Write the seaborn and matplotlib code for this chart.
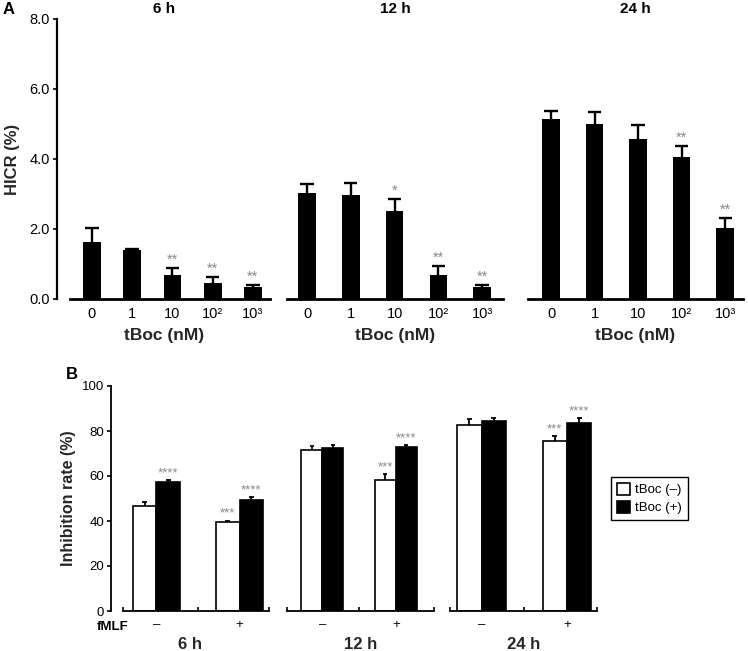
import matplotlib
matplotlib.use("Agg")
import matplotlib.pyplot as plt
import seaborn as sns
import pandas as pd

# Panel A: HICR (%) by tBoc dose at three time points
doses = ["0", "1", "10", "10\u00b2", "10\u00b3"]
a_times = ["6 h", "12 h", "24 h"]
a_means = {
    "6 h": [1.63, 1.40, 0.69, 0.47, 0.33],
    "12 h": [3.03, 2.98, 2.51, 0.68, 0.33],
    "24 h": [5.13, 5.00, 4.56, 4.06, 2.04],
}
a_errs = {
    "6 h": [0.40, 0.04, 0.20, 0.17, 0.07],
    "12 h": [0.25, 0.32, 0.34, 0.26, 0.07],
    "24 h": [0.25, 0.34, 0.42, 0.31, 0.27],
}
a_stars = {
    "6 h": ["", "", "**", "**", "**"],
    "12 h": ["", "", "*", "**", "**"],
    "24 h": ["", "", "", "**", "**"],
}

# Panel B: inhibition rate (%) with / without fMLF and tBoc
fmlf_levels = ["\u2013", "+"]
tboc_levels = ["tBoc (\u2013)", "tBoc (+)"]
b_times = ["6 h", "12 h", "24 h"]
b_means = {
    "6 h": [[46.8, 39.4], [57.2, 49.3]],
    "12 h": [[71.7, 58.2], [72.6, 73.0]],
    "24 h": [[82.5, 75.4], [84.6, 83.7]],
}
b_errs = {
    "6 h": [[1.5, 0.8], [1.0, 1.4]],
    "12 h": [[1.6, 2.5], [1.0, 0.8]],
    "24 h": [[2.7, 2.5], [1.0, 1.9]],
}
b_stars = {
    "6 h": [["", "***"], ["****", "****"]],
    "12 h": [["", "***"], ["", "****"]],
    "24 h": [["", "***"], ["", "****"]],
}

sns.set_style("ticks")
plt.rcParams["font.family"] = ["Liberation Sans", "DejaVu Sans"]
plt.rcParams["axes.edgecolor"] = "black"
plt.rcParams["text.color"] = "black"
plt.rcParams["xtick.color"] = "black"
plt.rcParams["ytick.color"] = "black"

W, H = 748, 651
fig = plt.figure(figsize=(W / 100, H / 100), dpi=100)


def px_axes(left, top, right, bottom):
    return fig.add_axes([left / W, 1 - bottom / H, (right - left) / W, (bottom - top) / H])


def add_upper_errors(ax, container, errs, stars, lw, cap_frac, gap, star_size):
    bars = sorted(container.patches, key=lambda p: p.get_x())
    for bar, err, star in zip(bars, errs, stars):
        xc = bar.get_x() + bar.get_width() / 2
        h = bar.get_height()
        half = bar.get_width() * cap_frac
        ax.vlines(xc, h, h + err, color="black", linewidth=lw)
        ax.hlines(h + err, xc - half, xc + half, color="black", linewidth=lw)
        if star:
            ax.text(xc, h + err + gap, star, ha="center", va="bottom",
                    color="#8a8a8a", fontsize=star_size)


# ---- Panel A ----
a_boxes = [(57, 271), (287, 503), (528, 743)]
a_xlims = [(-0.87, 4.45), (-0.46, 4.48), (-0.53, 4.41)]
a_bounds = [(-0.55, 4.42), (-0.46, 4.48), (-0.53, 4.41)]
a_widths = [0.44, 0.40, 0.40]
for i, t in enumerate(a_times):
    ax = px_axes(a_boxes[i][0], 19, a_boxes[i][1], 299)
    df = pd.DataFrame({"dose": doses, "HICR": a_means[t]})
    sns.barplot(data=df, x="dose", y="HICR", order=doses, color="black",
                edgecolor="black", linewidth=0, width=a_widths[i],
                errorbar=None, saturation=1, ax=ax)
    add_upper_errors(ax, ax.containers[0], a_errs[t], a_stars[t], 1.7, 0.38, 0.03, 10.5)
    ax.set_xlim(*a_xlims[i])
    ax.set_ylim(0, 8)
    ax.spines["top"].set_visible(False)
    ax.spines["right"].set_visible(False)
    ax.spines["bottom"].set_linewidth(2)
    ax.spines["bottom"].set_bounds(*a_bounds[i])
    ax.tick_params(axis="x", length=0, labelsize=10.5, pad=6)
    ax.set_xlabel("tBoc (nM)", fontsize=12.5, fontweight="bold", labelpad=5)
    ax.set_title(t, fontsize=11, fontweight="bold", pad=4)
    if i == 0:
        ax.spines["left"].set_linewidth(1.6)
        ax.set_yticks([0, 2, 4, 6, 8])
        ax.set_yticklabels(["0.0", "2.0", "4.0", "6.0", "8.0"])
        ax.tick_params(axis="y", length=3, width=1.2, labelsize=10.5, pad=2)
        ax.set_ylabel("HICR (%)", fontsize=12, fontweight="bold", labelpad=7)
    else:
        ax.spines["left"].set_visible(False)
        ax.set_yticks([])
        ax.set_ylabel("")

fig.text(3 / W, 1 - 10 / H, "A", fontsize=12, fontweight="bold", va="center")

# ---- Panel B ----
b_boxes = [(111, 270), (287, 434), (450, 597)]
b_xlims = [(-0.548, 1.367), (-0.48, 1.52), (-0.37, 1.35)]
b_bounds = [(-0.40, 1.36), (-0.48, 1.52), (-0.37, 1.35)]
handles = None
for i, t in enumerate(b_times):
    ax = px_axes(b_boxes[i][0], 386, b_boxes[i][1], 611)
    rows = []
    for h_i, tb in enumerate(tboc_levels):
        for f_i, fm in enumerate(fmlf_levels):
            rows.append({"fMLF": fm, "tBoc": tb, "rate": b_means[t][h_i][f_i]})
    df = pd.DataFrame(rows)
    sns.barplot(data=df, x="fMLF", y="rate", hue="tBoc", order=fmlf_levels,
                hue_order=tboc_levels, palette={tboc_levels[0]: "white", tboc_levels[1]: "black"},
                edgecolor="black", linewidth=1.2, width=0.57, errorbar=None,
                saturation=1, ax=ax, legend=(i == 2))
    for h_i in range(2):
        add_upper_errors(ax, ax.containers[h_i], b_errs[t][h_i], b_stars[t][h_i], 1.3, 0.1, 0.3, 9.5)
    if i == 2:
        handles, labels = ax.get_legend_handles_labels()
        ax.get_legend().remove()
    ax.set_xlim(*b_xlims[i])
    ax.set_ylim(0, 100)
    ax.spines["top"].set_visible(False)
    ax.spines["right"].set_visible(False)
    ax.spines["bottom"].set_linewidth(1.3)
    ax.spines["bottom"].set_bounds(*b_bounds[i])
    lo, hi = b_bounds[i]
    ax.set_xticks([lo, 0.5, hi], minor=True)
    ax.tick_params(axis="x", which="minor", direction="in", length=3, width=1.2)
    ax.tick_params(axis="x", which="major", length=0, labelsize=9.5, pad=6)
    ax.set_xlabel(t, fontsize=12, fontweight="bold", labelpad=4)
    if i == 0:
        ax.spines["left"].set_linewidth(1.3)
        ax.set_yticks([0, 20, 40, 60, 80, 100])
        ax.tick_params(axis="y", length=3, width=1.2, labelsize=9.5, pad=2)
        ax.set_ylabel("Inhibition rate (%)", fontsize=11.5, fontweight="bold", labelpad=4)
    else:
        ax.spines["left"].set_visible(False)
        ax.set_yticks([])
        ax.set_ylabel("")

fig.legend(handles, labels, loc="upper left", bbox_to_anchor=(611 / W, 1 - 477 / H),
           frameon=True, fancybox=False, edgecolor="black", framealpha=1,
           fontsize=9.5, handlelength=1.0, handleheight=1.0, handletextpad=0.4,
           borderpad=0.45, labelspacing=0.35, borderaxespad=0)

fig.text(97 / W, 1 - 627 / H, "fMLF", fontsize=9.5, fontweight="bold", va="center")
fig.text(66 / W, 1 - 375 / H, "B", fontsize=12, fontweight="bold", va="center")

fig.savefig("out.png", dpi=100)
